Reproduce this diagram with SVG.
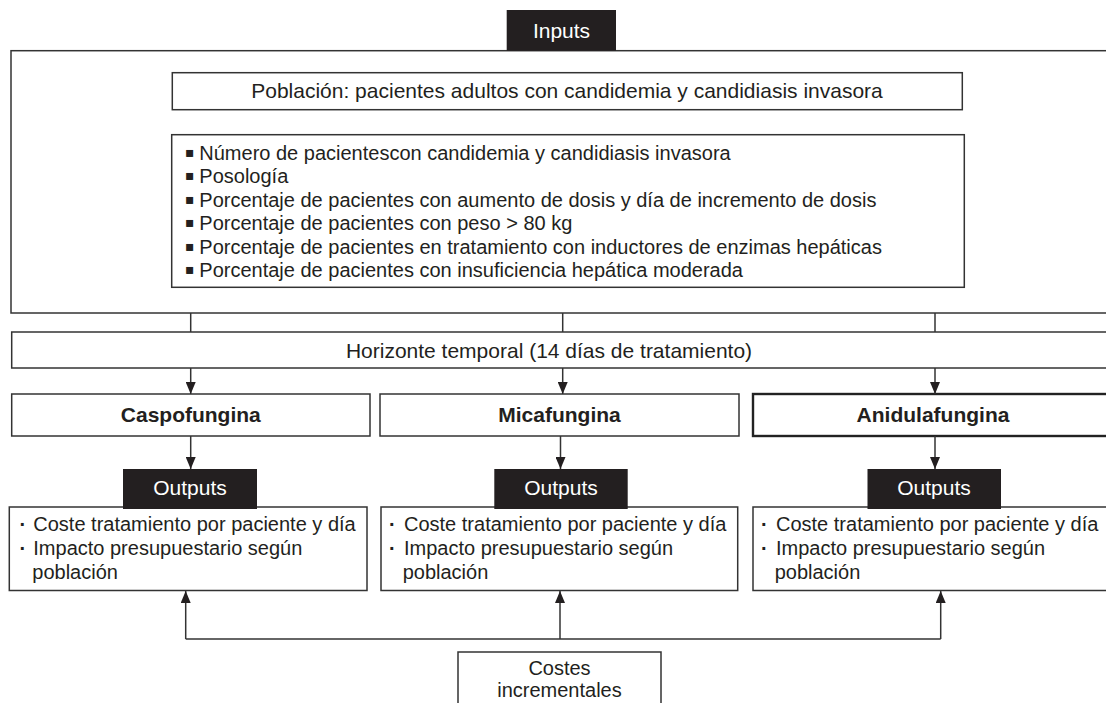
<svg xmlns="http://www.w3.org/2000/svg" width="1106" height="703" viewBox="0 0 1106 703">
<style>
  .box{fill:#fff;stroke:#333;stroke-width:1.5}
  .thick{fill:#fff;stroke:#222;stroke-width:2.4}
  .lab{fill:#231f20}
  .t{font-family:"Liberation Sans",Arial,sans-serif;font-size:21px;fill:#231f20}
  .tw{font-family:"Liberation Sans",Arial,sans-serif;font-size:21px;fill:#fff}
  .tb{font-family:"Liberation Sans",Arial,sans-serif;font-size:21px;font-weight:bold;fill:#231f20}
  .ts{font-family:"Liberation Sans",Arial,sans-serif;font-size:20px;fill:#231f20}
  .sq{font-family:"DejaVu Sans",sans-serif;font-size:14px;fill:#231f20}
  .dot{font-weight:bold}
  .ln{fill:none;stroke:#333;stroke-width:1.5}
</style>
<defs>
  <marker id="ah" viewBox="0 0 12 10" refX="12" refY="5" markerWidth="12" markerHeight="10" markerUnits="userSpaceOnUse" orient="auto">
    <path d="M0,0 L12,5 L0,10 Z" fill="#231f20"/>
  </marker>
</defs>

<g id="inputs-frame">
  <rect class="box" x="11" y="50.7" width="1120" height="262.3"/>
</g>
<g id="inputs-label">
  <rect class="lab" x="506.7" y="10" width="109.3" height="40.7"/>
  <text class="tw" x="561.5" y="38" text-anchor="middle">Inputs</text>
</g>
<g id="poblacion">
  <rect class="box" x="172.3" y="72.7" width="790" height="37"/>
  <text class="t" x="567" y="98" text-anchor="middle">Población: pacientes adultos con candidemia y candidiasis invasora</text>
</g>
<g id="variables">
  <rect class="box" x="171.7" y="134.7" width="792.6" height="152.6"/>
  <text class="ts" y="160"><tspan class="sq" x="185" dy="-3">▪</tspan><tspan x="199.3" dy="3">Número de pacientescon candidemia y candidiasis invasora</tspan></text>
  <text class="ts" y="183.3"><tspan class="sq" x="185" dy="-3">▪</tspan><tspan x="199.3" dy="3">Posología</tspan></text>
  <text class="ts" y="206.7"><tspan class="sq" x="185" dy="-3">▪</tspan><tspan x="199.3" dy="3">Porcentaje de pacientes con aumento de dosis y día de incremento de dosis</tspan></text>
  <text class="ts" y="230"><tspan class="sq" x="185" dy="-3">▪</tspan><tspan x="199.3" dy="3">Porcentaje de pacientes con peso &gt; 80 kg</tspan></text>
  <text class="ts" y="253.5"><tspan class="sq" x="185" dy="-3">▪</tspan><tspan x="199.3" dy="3">Porcentaje de pacientes en tratamiento con inductores de enzimas hepáticas</tspan></text>
  <text class="ts" y="276.7"><tspan class="sq" x="185" dy="-3">▪</tspan><tspan x="199.3" dy="3">Porcentaje de pacientes con insuficiencia hepática moderada</tspan></text>
</g>
<g id="horizonte">
  <rect class="box" x="11.7" y="332" width="1120" height="36"/>
  <text class="t" x="549" y="358.3" text-anchor="middle">Horizonte temporal (14 días de tratamiento)</text>
</g>

<g id="caspofungina">
  <rect class="box" x="11.7" y="394" width="358.3" height="42"/>
  <text class="tb" x="190.8" y="421.7" text-anchor="middle">Caspofungina</text>
</g>
<g id="micafungina">
  <rect class="box" x="380" y="394" width="359" height="42"/>
  <text class="tb" x="559.5" y="421.7" text-anchor="middle">Micafungina</text>
</g>
<g id="anidulafungina">
  <rect class="thick" x="753" y="394" width="380" height="42"/>
  <text class="tb" x="933" y="421.7" text-anchor="middle">Anidulafungina</text>
</g>

<g id="outputs-caspofungina">
  <rect class="box" x="9.3" y="507" width="357.7" height="83.5"/>
  <rect class="lab" x="123" y="469" width="134" height="40"/>
  <text class="tw" x="190" y="495" text-anchor="middle">Outputs</text>
  <text class="ts" y="531"><tspan class="dot" x="19.5">·</tspan><tspan x="33.3">Coste tratamiento por paciente y día</tspan></text>
  <text class="ts" y="555"><tspan class="dot" x="19.5">·</tspan><tspan x="33.3">Impacto presupuestario según</tspan></text>
  <text class="ts" x="32.3" y="579">población</text>
</g>
<g id="outputs-micafungina">
  <rect class="box" x="381" y="507" width="356.7" height="83.5"/>
  <rect class="lab" x="494.3" y="469" width="133.4" height="40"/>
  <text class="tw" x="561" y="495" text-anchor="middle">Outputs</text>
  <text class="ts" y="531"><tspan class="dot" x="389">·</tspan><tspan x="404">Coste tratamiento por paciente y día</tspan></text>
  <text class="ts" y="555"><tspan class="dot" x="389">·</tspan><tspan x="404">Impacto presupuestario según</tspan></text>
  <text class="ts" x="402.7" y="579">población</text>
</g>
<g id="outputs-anidulafungina">
  <rect class="box" x="753" y="507" width="380" height="83.5"/>
  <rect class="lab" x="867.5" y="469" width="133.5" height="40"/>
  <text class="tw" x="934" y="495" text-anchor="middle">Outputs</text>
  <text class="ts" y="531"><tspan class="dot" x="761">·</tspan><tspan x="776">Coste tratamiento por paciente y día</tspan></text>
  <text class="ts" y="555"><tspan class="dot" x="761">·</tspan><tspan x="776">Impacto presupuestario según</tspan></text>
  <text class="ts" x="774.7" y="579">población</text>
</g>

<g id="costes">
  <rect class="box" x="458" y="652" width="203" height="70"/>
  <text class="ts" x="559.5" y="675" text-anchor="middle">Costes</text>
  <text class="ts" x="559.5" y="697" text-anchor="middle">incrementales</text>
</g>

<g id="connectors">
  <line class="ln" x1="190.7" y1="313" x2="190.7" y2="332"/>
  <line class="ln" x1="562.7" y1="313" x2="562.7" y2="332"/>
  <line class="ln" x1="935" y1="313" x2="935" y2="332"/>
  <line class="ln" x1="190.7" y1="368" x2="190.7" y2="394" marker-end="url(#ah)"/>
  <line class="ln" x1="562.7" y1="368" x2="562.7" y2="394" marker-end="url(#ah)"/>
  <line class="ln" x1="935" y1="368" x2="935" y2="394" marker-end="url(#ah)"/>
  <line class="ln" x1="190.7" y1="436" x2="190.7" y2="469" marker-end="url(#ah)"/>
  <line class="ln" x1="560.5" y1="436" x2="560.5" y2="469" marker-end="url(#ah)"/>
  <line class="ln" x1="935" y1="436" x2="935" y2="469" marker-end="url(#ah)"/>
  <polyline class="ln" points="185.7,639 940.7,639"/>
  <line class="ln" x1="185.7" y1="639" x2="185.7" y2="591" marker-end="url(#ah)"/>
  <line class="ln" x1="560" y1="639" x2="560" y2="591" marker-end="url(#ah)"/>
  <line class="ln" x1="940.7" y1="639" x2="940.7" y2="591" marker-end="url(#ah)"/>
</g>
</svg>
